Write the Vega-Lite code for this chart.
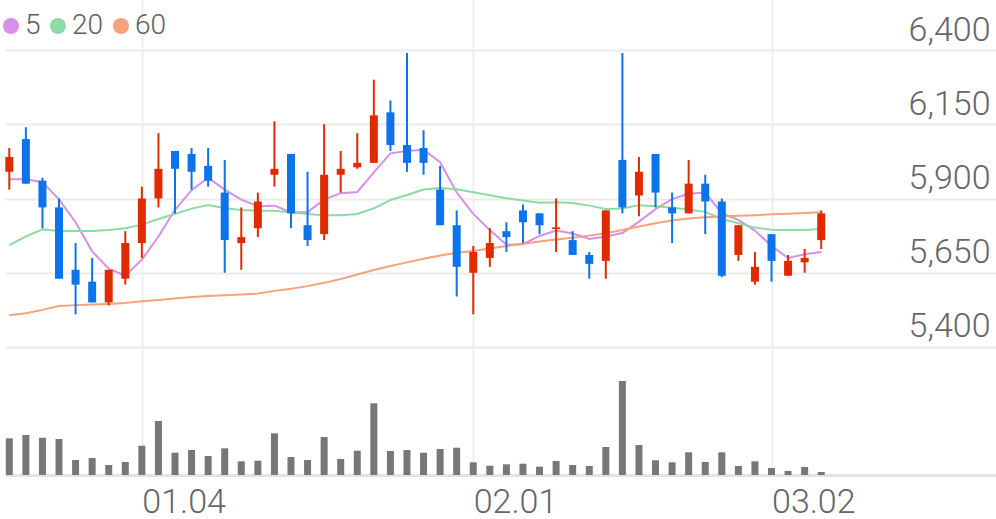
{
  "$schema": "https://vega.github.io/schema/vega-lite/v6.json",
  "width": 991,
  "height": 475,
  "autosize": {"type": "none"},
  "padding": {"left": 5, "top": 0, "right": 0, "bottom": 44},
  "background": "white",
  "config": {"view": {"stroke": null}, "font": "Roboto"},
  "data": {"values": [
    {"d": "2020-12-18", "o": 5990, "h": 6070, "l": 5930, "c": 6040, "vol": 367000, "m5": 5965, "m20": 5743, "m60": 5507},
    {"d": "2020-12-21", "o": 6100, "h": 6140, "l": 5950, "c": 5950, "vol": 400000, "m5": 5965, "m20": 5772, "m60": 5514},
    {"d": "2020-12-22", "o": 5960, "h": 5970, "l": 5800, "c": 5870, "vol": 373000, "m5": 5955, "m20": 5796, "m60": 5525},
    {"d": "2020-12-23", "o": 5870, "h": 5900, "l": 5630, "c": 5630, "vol": 360000, "m5": 5897, "m20": 5791, "m60": 5538},
    {"d": "2020-12-24", "o": 5660, "h": 5750, "l": 5510, "c": 5610, "vol": 150000, "m5": 5820, "m20": 5791, "m60": 5541},
    {"d": "2020-12-28", "o": 5620, "h": 5700, "l": 5550, "c": 5550, "vol": 170000, "m5": 5722, "m20": 5791, "m60": 5543},
    {"d": "2020-12-29", "o": 5550, "h": 5660, "l": 5540, "c": 5660, "vol": 100000, "m5": 5664, "m20": 5794, "m60": 5545},
    {"d": "2020-12-30", "o": 5630, "h": 5790, "l": 5610, "c": 5750, "vol": 130000, "m5": 5640, "m20": 5800, "m60": 5548},
    {"d": "2021-01-04", "o": 5750, "h": 5940, "l": 5700, "c": 5900, "vol": 293000, "m5": 5694, "m20": 5812, "m60": 5554},
    {"d": "2021-01-05", "o": 5900, "h": 6120, "l": 5870, "c": 6000, "vol": 540000, "m5": 5772, "m20": 5831, "m60": 5558},
    {"d": "2021-01-06", "o": 6060, "h": 6060, "l": 5850, "c": 6000, "vol": 223000, "m5": 5862, "m20": 5848, "m60": 5563},
    {"d": "2021-01-07", "o": 6050, "h": 6070, "l": 5930, "c": 5990, "vol": 250000, "m5": 5928, "m20": 5866, "m60": 5568},
    {"d": "2021-01-08", "o": 6010, "h": 6070, "l": 5940, "c": 5960, "vol": 190000, "m5": 5970, "m20": 5878, "m60": 5572},
    {"d": "2021-01-11", "o": 5920, "h": 6030, "l": 5650, "c": 5760, "vol": 267000, "m5": 5930, "m20": 5867, "m60": 5574},
    {"d": "2021-01-12", "o": 5750, "h": 5870, "l": 5660, "c": 5770, "vol": 137000, "m5": 5896, "m20": 5861, "m60": 5577},
    {"d": "2021-01-13", "o": 5800, "h": 5920, "l": 5770, "c": 5890, "vol": 143000, "m5": 5874, "m20": 5859, "m60": 5580},
    {"d": "2021-01-14", "o": 5980, "h": 6160, "l": 5940, "c": 6000, "vol": 417000, "m5": 5876, "m20": 5859, "m60": 5589},
    {"d": "2021-01-15", "o": 6050, "h": 6050, "l": 5800, "c": 5850, "vol": 180000, "m5": 5854, "m20": 5853, "m60": 5596},
    {"d": "2021-01-18", "o": 5810, "h": 5990, "l": 5740, "c": 5760, "vol": 150000, "m5": 5854, "m20": 5848, "m60": 5605},
    {"d": "2021-01-19", "o": 5780, "h": 6150, "l": 5760, "c": 5980, "vol": 380000, "m5": 5896, "m20": 5844, "m60": 5616},
    {"d": "2021-01-20", "o": 5980, "h": 6060, "l": 5920, "c": 6000, "vol": 160000, "m5": 5918, "m20": 5844, "m60": 5629},
    {"d": "2021-01-21", "o": 6005, "h": 6120, "l": 6000, "c": 6020, "vol": 243000, "m5": 5922, "m20": 5848, "m60": 5644},
    {"d": "2021-01-22", "o": 6020, "h": 6300, "l": 6020, "c": 6180, "vol": 717000, "m5": 5988, "m20": 5867, "m60": 5659},
    {"d": "2021-01-25", "o": 6190, "h": 6230, "l": 6060, "c": 6080, "vol": 240000, "m5": 6052, "m20": 5895, "m60": 5673},
    {"d": "2021-01-26", "o": 6080, "h": 6390, "l": 5990, "c": 6020, "vol": 250000, "m5": 6060, "m20": 5912, "m60": 5685},
    {"d": "2021-01-27", "o": 6070, "h": 6130, "l": 5980, "c": 6020, "vol": 223000, "m5": 6064, "m20": 5930, "m60": 5697},
    {"d": "2021-01-28", "o": 5930, "h": 6010, "l": 5810, "c": 5810, "vol": 260000, "m5": 6022, "m20": 5935, "m60": 5708},
    {"d": "2021-01-29", "o": 5810, "h": 5860, "l": 5570, "c": 5670, "vol": 273000, "m5": 5920, "m20": 5931, "m60": 5717},
    {"d": "2021-02-01", "o": 5650, "h": 5740, "l": 5510, "c": 5720, "vol": 127000, "m5": 5848, "m20": 5921, "m60": 5723},
    {"d": "2021-02-02", "o": 5700, "h": 5800, "l": 5670, "c": 5750, "vol": 93000, "m5": 5794, "m20": 5911, "m60": 5732},
    {"d": "2021-02-03", "o": 5790, "h": 5820, "l": 5720, "c": 5770, "vol": 107000, "m5": 5744, "m20": 5901, "m60": 5740},
    {"d": "2021-02-04", "o": 5860, "h": 5880, "l": 5750, "c": 5820, "vol": 113000, "m5": 5746, "m20": 5893, "m60": 5748},
    {"d": "2021-02-05", "o": 5850, "h": 5850, "l": 5780, "c": 5810, "vol": 83000, "m5": 5774, "m20": 5886, "m60": 5755},
    {"d": "2021-02-08", "o": 5797, "h": 5900, "l": 5720, "c": 5803, "vol": 140000, "m5": 5792, "m20": 5887, "m60": 5762},
    {"d": "2021-02-09", "o": 5760, "h": 5790, "l": 5710, "c": 5710, "vol": 100000, "m5": 5782, "m20": 5885, "m60": 5768},
    {"d": "2021-02-10", "o": 5710, "h": 5720, "l": 5630, "c": 5680, "vol": 90000, "m5": 5764, "m20": 5876, "m60": 5775},
    {"d": "2021-02-15", "o": 5690, "h": 5860, "l": 5630, "c": 5860, "vol": 280000, "m5": 5772, "m20": 5865, "m60": 5783},
    {"d": "2021-02-16", "o": 6030, "h": 6390, "l": 5850, "c": 5870, "vol": 940000, "m5": 5784, "m20": 5866, "m60": 5794},
    {"d": "2021-02-17", "o": 5910, "h": 6040, "l": 5840, "c": 5990, "vol": 300000, "m5": 5822, "m20": 5877, "m60": 5806},
    {"d": "2021-02-18", "o": 6050, "h": 6050, "l": 5870, "c": 5920, "vol": 147000, "m5": 5864, "m20": 5874, "m60": 5817},
    {"d": "2021-02-19", "o": 5870, "h": 5920, "l": 5750, "c": 5850, "vol": 127000, "m5": 5898, "m20": 5869, "m60": 5826},
    {"d": "2021-02-22", "o": 5850, "h": 6030, "l": 5850, "c": 5950, "vol": 227000, "m5": 5916, "m20": 5863, "m60": 5833},
    {"d": "2021-02-23", "o": 5950, "h": 5980, "l": 5780, "c": 5890, "vol": 130000, "m5": 5920, "m20": 5855, "m60": 5837},
    {"d": "2021-02-24", "o": 5890, "h": 5900, "l": 5635, "c": 5640, "vol": 227000, "m5": 5850, "m20": 5831, "m60": 5839},
    {"d": "2021-02-25", "o": 5710, "h": 5810, "l": 5690, "c": 5810, "vol": 90000, "m5": 5828, "m20": 5817, "m60": 5842},
    {"d": "2021-02-26", "o": 5620, "h": 5720, "l": 5610, "c": 5670, "vol": 137000, "m5": 5792, "m20": 5802, "m60": 5844},
    {"d": "2021-03-02", "o": 5780, "h": 5780, "l": 5620, "c": 5690, "vol": 70000, "m5": 5740, "m20": 5795, "m60": 5847},
    {"d": "2021-03-03", "o": 5640, "h": 5710, "l": 5640, "c": 5690, "vol": 40000, "m5": 5700, "m20": 5794, "m60": 5849},
    {"d": "2021-03-04", "o": 5685, "h": 5730, "l": 5650, "c": 5700, "vol": 80000, "m5": 5712, "m20": 5794, "m60": 5851},
    {"d": "2021-03-05", "o": 5760, "h": 5860, "l": 5730, "c": 5850, "vol": 30000, "m5": 5720, "m20": 5797, "m60": 5854}
  ]},
  "encoding": {
    "x": {
      "field": "d",
      "type": "ordinal",
      "scale": {
        "type": "point",
        "padding": 0.4035,
        "align": 0.3216,
        "domain": [
          "2020-12-18", "2020-12-21", "2020-12-22", "2020-12-23", "2020-12-24", "2020-12-28", "2020-12-29", "2020-12-30",
          "2021-01-04", "2021-01-05", "2021-01-06", "2021-01-07", "2021-01-08", "2021-01-11", "2021-01-12", "2021-01-13",
          "2021-01-14", "2021-01-15", "2021-01-18", "2021-01-19", "2021-01-20", "2021-01-21", "2021-01-22", "2021-01-25",
          "2021-01-26", "2021-01-27", "2021-01-28", "2021-01-29", "2021-02-01", "2021-02-02", "2021-02-03", "2021-02-04",
          "2021-02-05", "2021-02-08", "2021-02-09", "2021-02-10", "2021-02-15", "2021-02-16", "2021-02-17", "2021-02-18",
          "2021-02-19", "2021-02-22", "2021-02-23", "2021-02-24", "2021-02-25", "2021-02-26", "2021-03-02", "2021-03-03",
          "2021-03-04", "2021-03-05", "2021-03-08", "2021-03-09", "2021-03-10", "2021-03-11", "2021-03-12", "2021-03-15",
          "2021-03-16", "2021-03-17", "2021-03-18", "2021-03-19"
        ]
      },
      "axis": {
        "values": ["2021-01-04", "2021-02-01", "2021-03-02"],
        "labelExpr": "substring(datum.value, 5, 7) + '.' + substring(datum.value, 8, 10)",
        "title": null,
        "grid": true,
        "gridColor": "#eeeeee",
        "gridWidth": 2,
        "ticks": false,
        "domain": true,
        "domainColor": "#e3e3e3",
        "domainWidth": 3,
        "labelAngle": 0,
        "labelAlign": "left",
        "labelBaseline": "alphabetic",
        "labelPadding": 37,
        "labelFontSize": 34,
        "labelFont": "Roboto",
        "labelFontWeight": 300,
        "labelColor": "#666666",
        "labelOverlap": false,
        "labelFlush": false
      }
    }
  },
  "layer": [
    {
      "mark": {"type": "bar", "size": 7, "color": "#777777"},
      "encoding": {
        "y": {"field": "vol", "type": "quantitative", "scale": {"domain": [0, 4750000], "nice": false}, "axis": null}
      }
    },
    {
      "layer": [
        {
          "transform": [{"fold": ["m5", "m20", "m60"], "as": ["line", "val"]}],
          "mark": {"type": "line", "strokeWidth": 2},
          "encoding": {
            "y": {
              "field": "val", "type": "quantitative",
              "scale": {"domain": [4969, 6568.4], "nice": false, "zero": false},
              "axis": {
                "orient": "right",
                "values": [5400, 5650, 5900, 6150, 6400],
                "labelExpr": "format(datum.value, ',')",
                "title": null,
                "grid": true,
                "gridColor": "#ececec",
                "gridWidth": 2,
                "ticks": false,
                "domain": false,
                "labelAlign": "right",
                "labelBaseline": "alphabetic",
                "labelPadding": -6,
                "labelOffset": -10,
                "labelFontSize": 34,
                "labelFont": "Roboto",
                "labelFontWeight": 300,
                "labelColor": "#666666"
              }
            },
            "color": {
              "field": "line", "type": "nominal",
              "scale": {"domain": ["m5", "m20", "m60"], "range": ["#d690e8", "#8fdaa2", "#f6a27b"]},
              "legend": {
                "orient": "none",
                "legendX": -8,
                "legendY": 12,
                "direction": "horizontal",
                "title": null,
                "symbolType": "circle",
                "symbolSize": 256,
                "labelFontSize": 28,
                "labelFont": "Roboto",
                "labelFontWeight": 300,
                "labelColor": "#5e5e5e",
                "labelOffset": 0,
                "columnPadding": 3,
                "padding": 0,
                "labelExpr": "substring(datum.label, 1)",
                "encode": {"symbols": {"update": {"fill": {"scale": "color", "field": "value"}, "strokeWidth": {"value": 0}, "opacity": {"value": 1}}}}
              }
            }
          }
        },
        {
          "mark": {"type": "rule", "strokeWidth": 2},
          "encoding": {
            "y": {"field": "l", "type": "quantitative", "title": null, "scale": {"domain": [4969, 6568.4], "nice": false, "zero": false}},
            "y2": {"field": "h"},
            "color": {"condition": {"test": "datum.c >= datum.o", "value": "#e12a00"}, "value": "#0b74ea"}
          }
        },
        {
          "mark": {"type": "bar", "size": 8},
          "encoding": {
            "y": {"field": "o", "type": "quantitative", "title": null, "scale": {"domain": [4969, 6568.4], "nice": false, "zero": false}},
            "y2": {"field": "c"},
            "color": {"condition": {"test": "datum.c >= datum.o", "value": "#e12a00"}, "value": "#0b74ea"}
          }
        }
      ]
    }
  ],
  "resolve": {"scale": {"y": "independent"}}
}
